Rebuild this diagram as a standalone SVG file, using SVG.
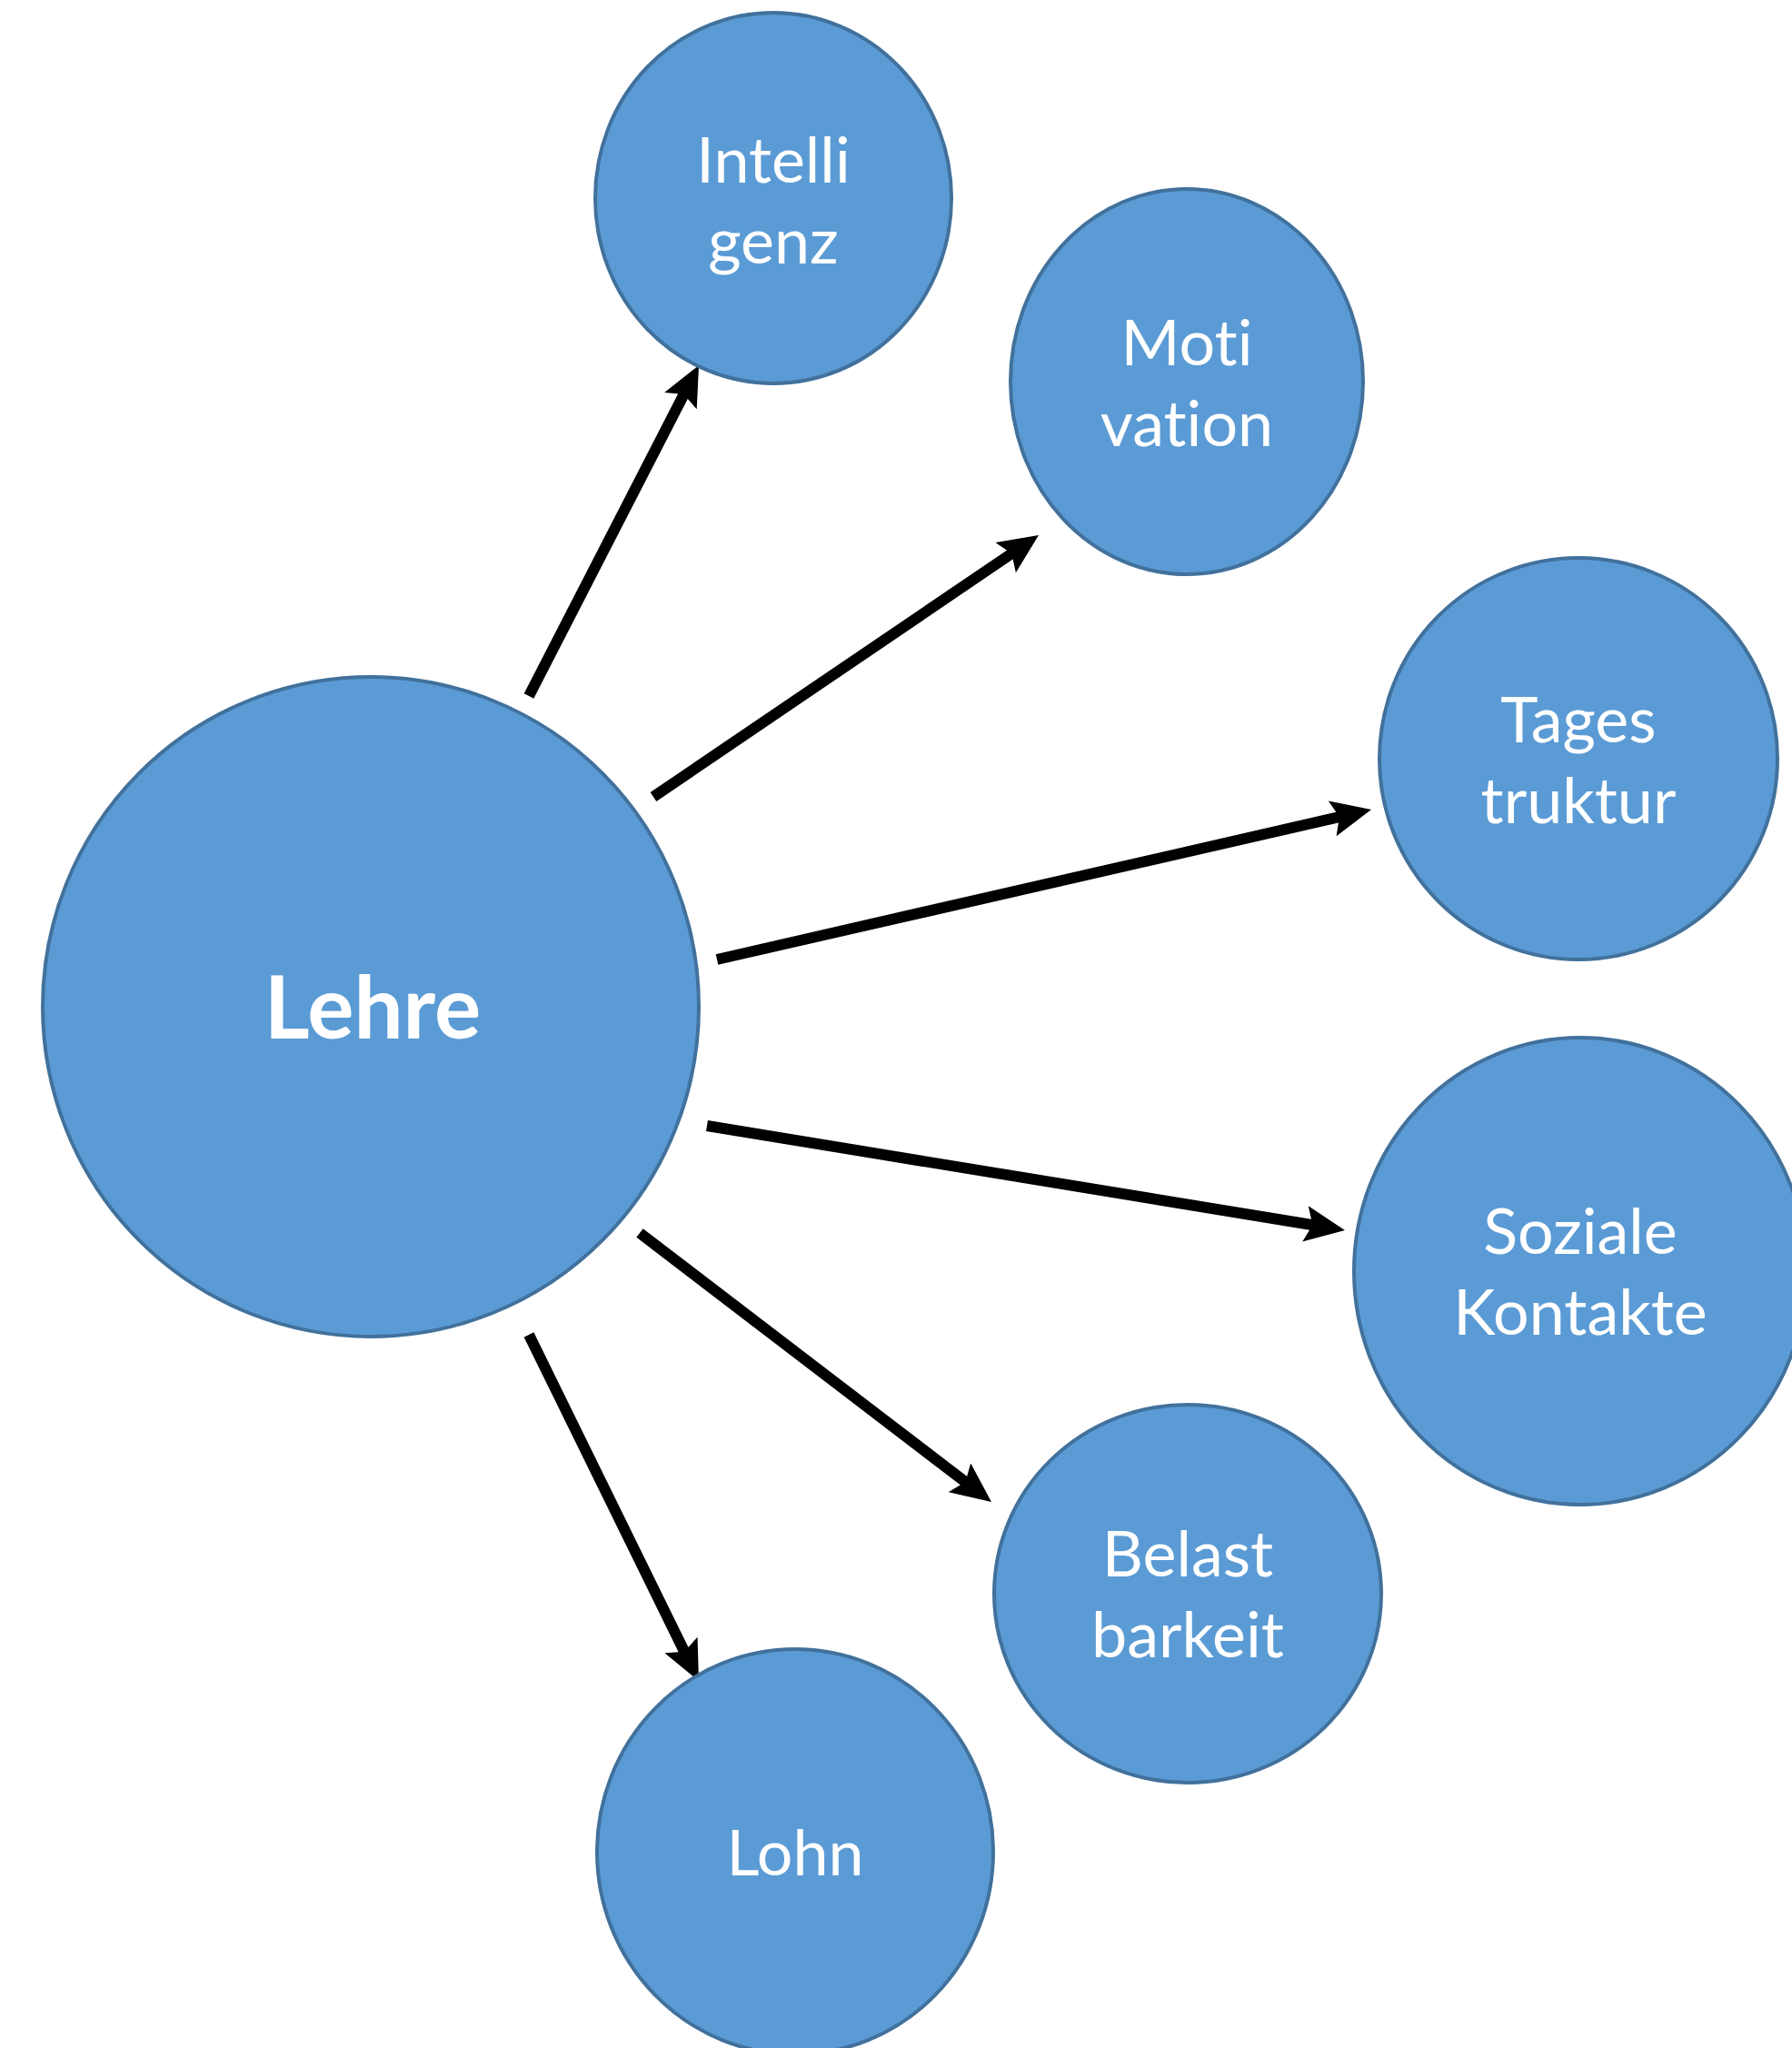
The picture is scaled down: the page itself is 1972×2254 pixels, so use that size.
<svg xmlns="http://www.w3.org/2000/svg" width="1972" height="2254" viewBox="0 0 1972 2254">
<defs>
<style>
.n{fill:#5B9BD5;stroke:#41719C;stroke-width:4}
.t{fill:#fff;font-family:Lato,"Open Sans","Liberation Sans",sans-serif;font-size:70px;text-anchor:middle;font-variant-ligatures:none;font-feature-settings:"liga" 0}
.b{font-weight:bold;font-size:96px}
.c{stroke:#000;stroke-width:12;fill:none;marker-end:url(#ah)}
</style>
<marker id="ah" markerUnits="userSpaceOnUse" markerWidth="46" markerHeight="40" refX="10" refY="20" orient="auto">
<path d="M0,0 L44,20 L0,40 L8,20 Z" fill="#000"/>
</marker>
</defs>
<rect width="1972" height="2254" fill="#fff"/>
<g id="connectors">
<line class="c" x1="582" y1="766" x2="753.5" y2="432.3"/>
<line class="c" x1="719" y1="877" x2="1114.9" y2="608.1"/>
<line class="c" x1="789" y1="1056" x2="1475.9" y2="898.6"/>
<line class="c" x1="778" y1="1239" x2="1446.4" y2="1348.5"/>
<line class="c" x1="704" y1="1357" x2="1064" y2="1632.3"/>
<line class="c" x1="582" y1="1469" x2="754" y2="1819.5"/>
</g>
<g id="lehre"><ellipse class="n" cx="408" cy="1108" rx="361" ry="363"/><text class="t b" x="410" y="1143">Lehre</text></g>
<g id="intelligenz"><ellipse class="n" cx="851" cy="218" rx="196" ry="204"/><text class="t" x="851" y="201">Intelli</text><text class="t" x="851" y="290">genz</text></g>
<g id="motivation"><ellipse class="n" cx="1306" cy="420" rx="194" ry="212"/><text class="t" x="1306" y="402">Moti</text><text class="t" x="1306" y="491">vation</text></g>
<g id="tagesstruktur"><ellipse class="n" cx="1737" cy="835" rx="219" ry="221"/><text class="t" x="1737" y="817">Tages</text><text class="t" x="1737" y="906">truktur</text></g>
<g id="sozialekontakte"><ellipse class="n" cx="1739" cy="1399" rx="249" ry="257"/><text class="t" x="1739" y="1380">Soziale</text><text class="t" x="1739" y="1469">Kontakte</text></g>
<g id="belastbarkeit"><ellipse class="n" cx="1307" cy="1754" rx="213" ry="208"/><text class="t" x="1307" y="1735">Belast</text><text class="t" x="1307" y="1824">barkeit</text></g>
<g id="lohn"><ellipse class="n" cx="875" cy="2038" rx="218" ry="223"/><text class="t" x="875" y="2064">Lohn</text></g>
</svg>
